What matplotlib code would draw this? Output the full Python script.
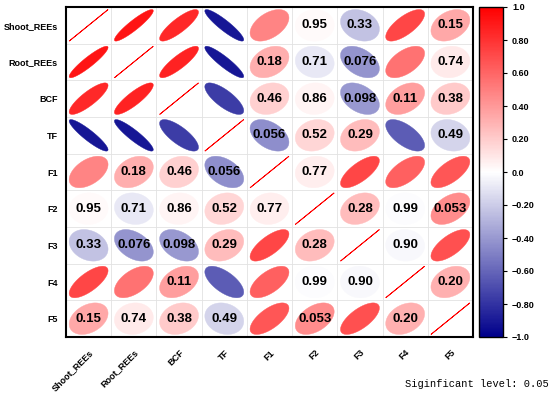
import numpy as np
import matplotlib
matplotlib.use('Agg')
import matplotlib.pyplot as plt
from matplotlib.colors import LinearSegmentedColormap, Normalize
from matplotlib.patches import Polygon
import matplotlib.colorbar as mcolorbar

labels = ['Shoot_REEs', 'Root_REEs', 'BCF', 'TF', 'F1', 'F2', 'F3', 'F4', 'F5']

# upper triangle, row by row (col > row)
r_shoot = [0.92, 0.84, -0.91, 0.48, 0.02, -0.24, 0.72, 0.34]
r_root = [0.86, -0.91, 0.32, -0.09, -0.42, 0.55, 0.08]
r_bcf = [-0.76, 0.18, 0.04, -0.40, 0.38, 0.21]
r_tf = [-0.44, 0.16, 0.26, -0.64, -0.17]
r_f1 = [0.07, 0.72, 0.62, 0.66]
r_f2 = [0.26, -0.01, 0.45]
r_f3 = [-0.03, 0.68]
r_f4 = [0.31]

# p values shown where not significant (None = p < 0.05)
p_shoot = [None, None, None, None, 0.95, 0.33, None, 0.15]
p_root = [None, None, 0.18, 0.71, 0.076, None, 0.74]
p_bcf = [None, 0.46, 0.86, 0.098, 0.11, 0.38]
p_tf = [0.056, 0.52, 0.29, None, 0.49]
p_f1 = [0.77, None, None, None]
p_f2 = [0.28, 0.99, 0.053]
p_f3 = [0.90, None]
p_f4 = [0.20]

cbar_ticks = [1.0, 0.8, 0.6, 0.4, 0.2, 0.0, -0.2, -0.4, -0.6, -0.8, -1.0]
cbar_labels = ['1.0', '0.80', '0.60', '0.40', '0.20', '0.0', '\u22120.20', '\u22120.40',
               '\u22120.60', '\u22120.80', '\u22121.0']

n = len(labels)
R = np.eye(n)
P = np.full((n, n), np.nan)
for i, (rr, pp) in enumerate(zip([r_shoot, r_root, r_bcf, r_tf, r_f1, r_f2, r_f3, r_f4],
                                  [p_shoot, p_root, p_bcf, p_tf, p_f1, p_f2, p_f3, p_f4])):
    for k, (rv, pv) in enumerate(zip(rr, pp)):
        j = i + 1 + k
        R[i, j] = R[j, i] = rv
        if pv is not None:
            P[i, j] = P[j, i] = pv

plt.rcParams['font.family'] = ['Liberation Sans', 'DejaVu Sans']
cmap = LinearSegmentedColormap.from_list('bwr2', ['#00008B', '#FFFFFF', '#FF0000'])
norm = Normalize(-1, 1)

fig = plt.figure(figsize=(5.5, 3.94), dpi=100)
ax = fig.add_axes([66 / 550, 57 / 394, 407 / 550, 330 / 394])

t = np.linspace(0, 2 * np.pi, 100)
for i in range(n):
    for j in range(n):
        cx, cy = j, n - 1 - i
        r = R[i, j]
        a = np.arccos(np.clip(r, -1, 1))
        x = np.cos(t + a / 2) / 2 * 0.86
        y = np.cos(t - a / 2) / 2 * 0.86
        col = cmap(norm(r))
        ax.add_patch(Polygon(np.column_stack([x + cx, y + cy]), closed=True,
                             facecolor=col, edgecolor=col, lw=0.6 if i == j else 0.3))
        if not np.isnan(P[i, j]):
            s = np.format_float_positional(P[i, j], precision=2, unique=False,
                                           fractional=False, trim='k')
            ax.text(cx, cy, s, ha='center', va='center', fontsize=9.5,
                    fontweight='bold', color='black')

for k in range(1, n):
    ax.axvline(k - 0.5, color='#E2E2E2', lw=0.6, zorder=0)
    ax.axhline(k - 0.5, color='#E2E2E2', lw=0.6, zorder=0)

ax.set_xlim(-0.5, n - 0.5)
ax.set_ylim(-0.5, n - 0.5)
ax.set_xticks(range(n))
ax.set_xticklabels(labels, rotation=45, ha='right', rotation_mode='anchor',
                   fontsize=6.5, fontweight='bold')
ax.set_yticks(range(n))
ax.set_yticklabels(labels[::-1], fontsize=6.5, fontweight='bold')
ax.tick_params(axis='y', length=0, pad=6)
ax.tick_params(axis='x', length=0, pad=8)
for sp in ax.spines.values():
    sp.set_linewidth(1.5)

cax = fig.add_axes([479 / 550, 57 / 394, 24 / 550, 330 / 394])
cb = mcolorbar.ColorbarBase(cax, cmap=cmap, norm=norm)
cb.set_ticks(cbar_ticks)
cb.set_ticklabels(cbar_labels)
cb.ax.tick_params(labelsize=6.5, length=3, width=0.8)
for lab in cb.ax.get_yticklabels():
    lab.set_fontweight('bold')
cb.outline.set_linewidth(1.0)

fig.text(0.997, 0.012, 'Siginficant level: 0.05', ha='right', va='bottom',
         fontsize=7.5, family='Liberation Mono')

fig.savefig('out.png', dpi=100)
